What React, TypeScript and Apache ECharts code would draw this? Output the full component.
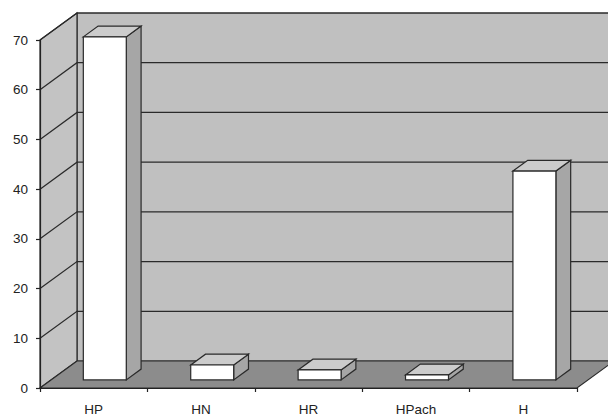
import React, { useEffect, useRef } from "react";
import * as echarts from "echarts";

const categories = ["HP", "HN", "HR", "HPach", "H"];
const values = [69, 3, 2, 1, 42];
const gridValues = [10, 20, 30, 40, 50, 60, 70];
const yMin = 0;
const yMax = 70;
const yStep = 10;

const DX = 37;
const DY = -27;
const F1 = 0.3;
const F2 = 0.7;
const BAR_FRAC = 0.4;
const STROKE = "#2a2a2a";
const LW = 1.2;
const FONT = "Liberation Sans, Arial, sans-serif";

function extent(api: any) {
  const bw = api.size([1, 0])[0];
  const left = api.coord([0, yMin])[0] - bw / 2;
  const right = api.coord([categories.length - 1, yMin])[0] + bw / 2;
  const y0 = api.coord([0, yMin])[1];
  const yT = api.coord([0, yMax])[1];
  return { left, right, y0, yT, bw };
}

export default function App() {
  const ref = useRef<HTMLDivElement>(null);
  useEffect(() => {
    if (!ref.current) return;
    const chart = echarts.init(ref.current, undefined, { renderer: "svg" });
    chart.setOption({
      animation: false,
      backgroundColor: "#ffffff",
      grid: { left: 40, right: 31, top: 40, bottom: 29 },
      xAxis: {
        type: "category",
        data: categories,
        z: 10,
        axisLine: { show: true, lineStyle: { color: "#222", width: LW } },
        axisTick: { show: true, length: 4, lineStyle: { color: "#222", width: LW } },
        axisLabel: { color: "#222", fontSize: 13.5, fontFamily: FONT, margin: 14 },
        splitLine: { show: false },
      },
      yAxis: {
        type: "value",
        min: yMin,
        max: yMax,
        interval: yStep,
        z: 10,
        axisLine: { show: true, lineStyle: { color: "#222", width: LW } },
        axisTick: { show: true, length: 4, lineStyle: { color: "#222", width: LW } },
        axisLabel: { color: "#222", fontSize: 13.5, fontFamily: FONT, margin: 12 },
        splitLine: { show: false },
      },
      series: [
        {
          type: "custom",
          z: 1,
          clip: false,
          silent: true,
          data: [[0, 0]],
          encode: { x: 0, y: 1 },
          renderItem: (params: any, api: any) => {
            const { left, right, y0, yT } = extent(api);
            return {
              type: "group",
              children: [
                {
                  type: "polygon",
                  shape: { points: [[left + DX, yT + DY], [right + DX, yT + DY], [right + DX, y0 + DY], [left + DX, y0 + DY]] },
                  style: { fill: "#c0c0c0", stroke: STROKE, lineWidth: LW },
                },
                {
                  type: "polygon",
                  shape: { points: [[left, yT], [left + DX, yT + DY], [left + DX, y0 + DY], [left, y0]] },
                  style: { fill: "#c3c3c3", stroke: STROKE, lineWidth: LW },
                },
                {
                  type: "polygon",
                  shape: { points: [[left, y0], [left + DX, y0 + DY], [right + DX, y0 + DY], [right, y0]] },
                  style: { fill: "#8c8c8c", stroke: STROKE, lineWidth: LW },
                },
              ],
            };
          },
        },
        {
          type: "custom",
          z: 2,
          clip: false,
          silent: true,
          data: gridValues.map((v) => [0, v]),
          encode: { x: 0, y: 1 },
          renderItem: (params: any, api: any) => {
            const { left, right } = extent(api);
            const y = api.coord([0, api.value(1)])[1];
            return {
              type: "polyline",
              shape: { points: [[left, y], [left + DX, y + DY], [right + DX, y + DY]] },
              style: { stroke: STROKE, lineWidth: LW, fill: "none" },
            };
          },
        },
        {
          type: "custom",
          z: 3,
          clip: false,
          data: values.map((v, i) => [i, v]),
          encode: { x: 0, y: 1 },
          renderItem: (params: any, api: any) => {
            const ci = api.value(0);
            const v = api.value(1);
            const top = api.coord([ci, v]);
            const base = api.coord([ci, yMin]);
            const bw = api.size([1, 0])[0] * BAR_FRAC;
            const fx = top[0] + DX * F1;
            const yTop = top[1] + DY * F1;
            const yBot = base[1] + DY * F1;
            const x0 = fx - bw / 2;
            const x1 = fx + bw / 2;
            const bdx = DX * (F2 - F1);
            const bdy = DY * (F2 - F1);
            return {
              type: "group",
              children: [
                {
                  type: "polygon",
                  shape: { points: [[x1, yTop], [x1 + bdx, yTop + bdy], [x1 + bdx, yBot + bdy], [x1, yBot]] },
                  style: { fill: "#a6a6a6", stroke: STROKE, lineWidth: LW },
                },
                {
                  type: "polygon",
                  shape: { points: [[x0, yTop], [x0 + bdx, yTop + bdy], [x1 + bdx, yTop + bdy], [x1, yTop]] },
                  style: { fill: "#cccccc", stroke: STROKE, lineWidth: LW },
                },
                {
                  type: "rect",
                  shape: { x: x0, y: yTop, width: bw, height: yBot - yTop },
                  style: { fill: "#ffffff", stroke: STROKE, lineWidth: LW },
                },
              ],
            };
          },
        },
      ],
    });
    return () => chart.dispose();
  }, []);
  return <div ref={ref} style={{ width: 608, height: 417, position: "absolute", left: 0, top: 0 }} />;
}
